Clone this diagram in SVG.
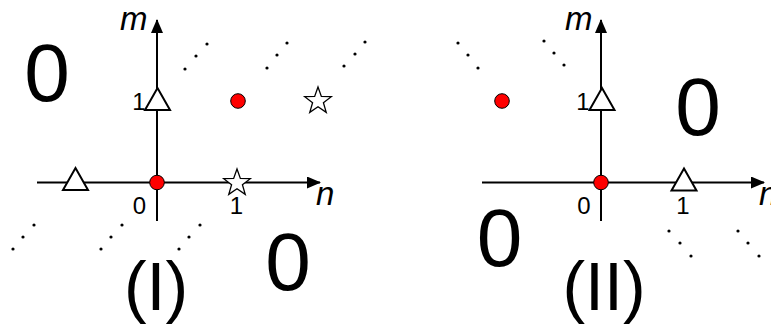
<svg xmlns="http://www.w3.org/2000/svg" width="771" height="329" viewBox="0 0 771 329">
<style>
.axis{stroke:#000;stroke-width:2;fill:none}
.tri{fill:#fff;stroke:#000;stroke-width:2;stroke-linejoin:miter}
.star{fill:#fff;stroke:#000;stroke-width:1.3}
.red{fill:#f00;stroke:#000;stroke-width:1}
.dot{fill:#000}
.t{font-family:'Liberation Sans',Arial,sans-serif;fill:#000}
.big{font-size:82px;text-anchor:middle}
.lab{font-size:24px;text-anchor:middle}
.var{font-size:33px;font-style:italic}
.title{font-size:68px;text-anchor:middle}
</style>
<defs>
<marker id="arr" viewBox="0 0 14 12" refX="13" refY="6" markerWidth="14" markerHeight="12" markerUnits="userSpaceOnUse" orient="auto">
<path d="M0,0 L14,6 L0,12 Z" fill="#000"/>
</marker>
<path id="triangle" d="M0,-11 L12.5,11 L-12.5,11 Z"/>
<path id="starshape" d="M0,-14 L3.35,-4.61 L13.31,-4.33 L5.42,1.76 L8.23,11.33 L0,5.7 L-8.23,11.33 L-5.42,1.76 L-13.31,-4.33 L-3.35,-4.61 Z"/>
</defs>

<g id="connectors">
<line class="axis" x1="37" y1="182.5" x2="320" y2="182.5" marker-end="url(#arr)"/>
<line class="axis" x1="157" y1="221" x2="157" y2="20" marker-end="url(#arr)"/>
<line class="axis" x1="482" y1="182.5" x2="764" y2="182.5" marker-end="url(#arr)"/>
<line class="axis" x1="601" y1="221" x2="601" y2="20" marker-end="url(#arr)"/>
</g>

<g id="panel-I">
<g id="I-tri-m1"><use href="#triangle" class="tri" x="157.5" y="99"/></g>
<g id="I-tri-nm1"><use href="#triangle" class="tri" x="75.5" y="179"/></g>
<g id="I-star-21"><use href="#starshape" class="star" x="318" y="101"/></g>
<g id="I-star-10"><use href="#starshape" class="star" x="237" y="183"/></g>
<g id="I-dot-origin"><circle class="red" cx="157" cy="182.5" r="7.3"/></g>
<g id="I-dot-11"><circle class="red" cx="238" cy="101" r="7.3"/></g>
<g id="I-ellipses">
<circle class="dot" cx="185" cy="69" r="1.6"/><circle class="dot" cx="196" cy="56" r="1.6"/><circle class="dot" cx="207" cy="44" r="1.6"/>
<circle class="dot" cx="267" cy="68" r="1.6"/><circle class="dot" cx="277" cy="55" r="1.6"/><circle class="dot" cx="287" cy="43" r="1.6"/>
<circle class="dot" cx="344" cy="66" r="1.6"/><circle class="dot" cx="355" cy="54" r="1.6"/><circle class="dot" cx="365" cy="42" r="1.6"/>
<circle class="dot" cx="13" cy="249" r="1.6"/><circle class="dot" cx="23" cy="237" r="1.6"/><circle class="dot" cx="34" cy="225" r="1.6"/>
<circle class="dot" cx="101" cy="249" r="1.6"/><circle class="dot" cx="111" cy="237" r="1.6"/><circle class="dot" cx="122" cy="225" r="1.6"/>
<circle class="dot" cx="179" cy="249" r="1.6"/><circle class="dot" cx="189" cy="237" r="1.6"/><circle class="dot" cx="200" cy="225" r="1.6"/>
</g>
<g id="I-labels">
<text class="t var" x="120" y="30">m</text>
<text class="t var" x="316" y="205">n</text>
<text class="t lab" x="139" y="110">1</text>
<text class="t lab" x="139.5" y="214">0</text>
<text class="t lab" x="236.5" y="214">1</text>
<text class="t big" x="47" y="101">0</text>
<text class="t big" x="288" y="290">0</text>
<text class="t title" x="156" y="310">(I)</text>
</g>
</g>

<g id="panel-II">
<g id="II-tri-m1"><use href="#triangle" class="tri" x="602" y="99"/></g>
<g id="II-tri-n1"><use href="#triangle" class="tri" x="684" y="179.5"/></g>
<g id="II-dot-origin"><circle class="red" cx="601" cy="182.5" r="7.3"/></g>
<g id="II-dot"><circle class="red" cx="502" cy="101" r="7.3"/></g>
<g id="II-ellipses">
<circle class="dot" cx="458" cy="43" r="1.6"/><circle class="dot" cx="468" cy="55" r="1.6"/><circle class="dot" cx="478" cy="68" r="1.6"/>
<circle class="dot" cx="544" cy="41" r="1.6"/><circle class="dot" cx="554" cy="53" r="1.6"/><circle class="dot" cx="564" cy="65" r="1.6"/>
<circle class="dot" cx="669" cy="231" r="1.6"/><circle class="dot" cx="680" cy="243" r="1.6"/><circle class="dot" cx="691" cy="256" r="1.6"/>
<circle class="dot" cx="738" cy="231" r="1.6"/><circle class="dot" cx="748" cy="243" r="1.6"/><circle class="dot" cx="759" cy="256" r="1.6"/>
</g>
<g id="II-labels">
<text class="t var" x="565" y="30">m</text>
<text class="t var" x="759" y="205">n</text>
<text class="t lab" x="583" y="110">1</text>
<text class="t lab" x="584" y="214">0</text>
<text class="t lab" x="683" y="214">1</text>
<text class="t big" x="698" y="135">0</text>
<text class="t big" x="499.5" y="266">0</text>
<text class="t title" x="604" y="310">(II)</text>
</g>
</g>
</svg>
